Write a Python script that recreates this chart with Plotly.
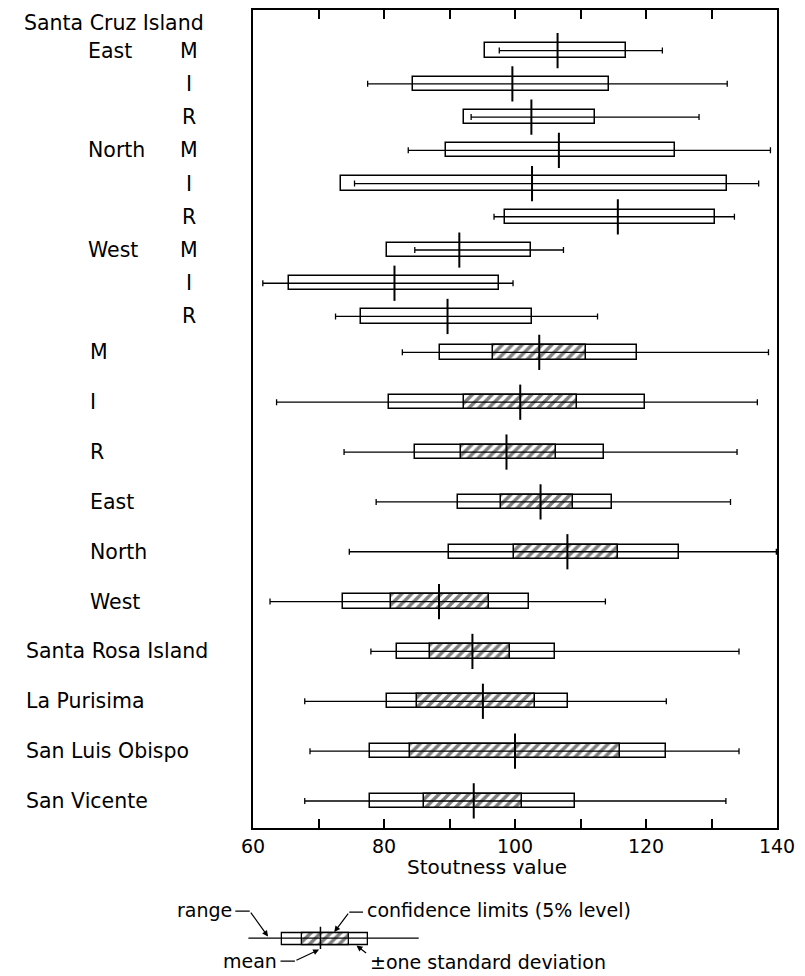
import plotly.graph_objects as go

# ---------------- data ----------------
samples = ["East M", "East I", "East R", "North M", "North I", "North R",
           "West M", "West I", "West R",
           "M", "I", "R", "East", "North", "West",
           "Santa Rosa Island", "La Purisima", "San Luis Obispo", "San Vicente"]
range_min = [97.6, 77.5, 93.3, 83.7, 75.5, 96.8, 84.7, 61.5, 72.6,
             82.8, 63.6, 73.9, 78.8, 74.7, 62.6, 78.0, 67.9, 68.7, 67.9]
range_max = [122.5, 132.4, 128.1, 139.0, 137.2, 133.5, 107.4, 99.7, 112.6,
             138.7, 137.0, 133.9, 132.9, 139.9, 113.8, 134.2, 123.1, 134.2, 132.2]
means = [106.5, 99.6, 102.5, 106.7, 102.6, 115.7, 91.5, 81.6, 89.7,
         103.7, 100.8, 98.7, 103.9, 108.0, 88.4, 93.5, 95.1, 100.0, 93.7]
sd_low = [95.4, 84.5, 92.2, 89.4, 73.5, 98.5, 80.4, 65.5, 76.5,
          88.6, 80.7, 84.8, 91.3, 89.9, 73.8, 82.0, 80.4, 77.9, 77.9]
sd_high = [117.0, 114.4, 112.2, 124.5, 132.4, 130.6, 102.5, 97.5, 102.6,
           118.6, 119.8, 113.6, 114.8, 125.0, 102.1, 106.1, 108.1, 123.1, 109.1]
ci_low = [None] * 9 + [96.7, 92.2, 91.7, 97.8, 99.9, 81.1, 87.0, 85.0, 84.0, 86.1]
ci_high = [None] * 9 + [110.8, 109.5, 106.2, 108.9, 115.8, 96.0, 99.2, 103.1, 116.1, 101.1]

header_label = "Santa Cruz Island"
tick_values = [60, 70, 80, 90, 100, 110, 120, 130, 140]
tick_labels = ["60", "", "80", "", "100", "", "120", "", "140"]
x_title = "Stoutness value"

# legend example (schematic)
legend_example = {"min": 59.3, "sd_lo": 64.5, "ci_lo": 67.5, "mean": 70.3,
                  "ci_hi": 74.7, "sd_hi": 77.5, "max": 85.3}
legend_texts = ["range", "confidence limits (5% level)", "mean", "\u00b1one standard deviation"]

# ---------------- layout helpers ----------------
OFF = 8                      # page body margin of the html page
W, H = 805 - OFF, 976 - OFF  # figure size so it fits the window exactly
ML, MR, MT, MB = 100, 28, 0, 0
PW = W - ML - MR
PH = H - MT - MB
PX_PER_UNIT = 6.55           # horizontal scale (px per stoutness unit)
X60_REF = 253                # window x of value 60


def px_x(ref_px):
    """window x -> paper x"""
    return (ref_px - OFF - ML) / PW


def px_y(ref_py):
    """window y -> paper y"""
    return (H - MB - (ref_py - OFF)) / PH


def val_at(ref_px):
    return 60 + (ref_px - X60_REF) / PX_PER_UNIT


FONT = "DejaVu Sans"
n = len(samples)
# rows 1-9 one unit apart, remaining rows 1.5 units apart
pos = [float(i) for i in range(9)] + [9.08 + 1.5 * k for k in range(n - 9)]
row_px0, row_step = 48.7, 33.3   # window y of row 0, px per row unit

fig = go.Figure()

PAT = dict(shape="/", fgcolor="black", bgcolor="white", size=7, solidity=0.5)

# +/- one SD boxes
fig.add_trace(go.Bar(
    orientation="h", y=pos, base=sd_low,
    x=[h - l for h, l in zip(sd_high, sd_low)],
    width=0.43, marker=dict(color="white", line=dict(color="black", width=1.5)),
    showlegend=False, hoverinfo="skip", xaxis="x", yaxis="y"))

# confidence limits (hatched)
ci_idx = [i for i in range(n) if ci_low[i] is not None]
fig.add_trace(go.Bar(
    orientation="h", y=[pos[i] for i in ci_idx], base=[ci_low[i] for i in ci_idx],
    x=[ci_high[i] - ci_low[i] for i in ci_idx],
    width=0.43,
    marker=dict(color="white", line=dict(color="black", width=1.5), pattern=PAT),
    showlegend=False, hoverinfo="skip", xaxis="x", yaxis="y"))

# range (error_x) and mean (error_y)
fig.add_trace(go.Scatter(
    x=means, y=pos, mode="markers",
    marker=dict(size=2, color="rgba(0,0,0,0)"),
    error_x=dict(type="data", symmetric=False,
                 array=[mx - m for mx, m in zip(range_max, means)],
                 arrayminus=[m - mn for m, mn in zip(means, range_min)],
                 color="black", thickness=1.3, width=3),
    error_y=dict(type="constant", value=0.53, color="black", thickness=2, width=0),
    cliponaxis=False, showlegend=False, hoverinfo="skip", xaxis="x", yaxis="y"))

# ---------------- legend schematic (second subplot, 1 y-unit = 1 px) ----------------
le = legend_example
fig.add_trace(go.Bar(orientation="h", y=[0.9], base=[le["sd_lo"]], x=[le["sd_hi"] - le["sd_lo"]],
                     width=12.3, marker=dict(color="white", line=dict(color="black", width=1.3)),
                     showlegend=False, hoverinfo="skip", xaxis="x2", yaxis="y2"))
fig.add_trace(go.Bar(orientation="h", y=[0.9], base=[le["ci_lo"]], x=[le["ci_hi"] - le["ci_lo"]],
                     width=12.3,
                     marker=dict(color="white", line=dict(color="black", width=1.3), pattern=PAT),
                     showlegend=False, hoverinfo="skip", xaxis="x2", yaxis="y2"))
fig.add_trace(go.Scatter(x=[le["min"], le["max"]], y=[0, 0], mode="lines",
                         line=dict(color="black", width=1.3), cliponaxis=False,
                         showlegend=False, hoverinfo="skip", xaxis="x2", yaxis="y2"))
fig.add_trace(go.Scatter(x=[le["mean"], le["mean"]], y=[-11.3, 11], mode="lines",
                         line=dict(color="black", width=1.5), cliponaxis=False,
                         showlegend=False, hoverinfo="skip", xaxis="x2", yaxis="y2"))
# leader hooks (horizontal pieces)
for xs, ys in [([57.3, 59.5], [-27, -27]), ([76.8, 74.7], [-26, -26]), ([64.2, 66.4], [23, 23])]:
    fig.add_trace(go.Scatter(x=xs, y=ys, mode="lines", line=dict(color="black", width=1.2),
                             cliponaxis=False, showlegend=False, hoverinfo="skip",
                             xaxis="x2", yaxis="y2"))

annotations = []
leg_font = dict(family=FONT, size=19, color="black")
annotations += [
    dict(text=legend_texts[0], x=57.1, y=-28, xref="x2", yref="y2", xanchor="right", yanchor="middle",
         showarrow=False, font=leg_font),
    dict(text=legend_texts[1], x=77.1, y=-28, xref="x2", yref="y2", xanchor="left", yanchor="middle",
         showarrow=False, font=leg_font),
    dict(text=legend_texts[2], x=64.0, y=23, xref="x2", yref="y2", xanchor="right", yanchor="middle",
         showarrow=False, font=leg_font),
    dict(text=legend_texts[3], x=77.5, y=24, xref="x2", yref="y2", xanchor="left", yanchor="middle",
         showarrow=False, font=leg_font),
]
# legend arrows (tail -> tip)
for (tx, ty), (hx, hy) in [((59.5, -27), (62.3, -1.5)), ((74.7, -26), (72.4, -6)),
                           ((66.4, 23), (70.1, 11.5)), ((77.5, 16), (75.8, 7.5))]:
    annotations.append(dict(text="", x=hx, y=hy, ax=tx, ay=ty, xref="x2", yref="y2",
                            axref="x2", ayref="y2", showarrow=True, arrowhead=2,
                            arrowsize=1, arrowwidth=1.2, arrowcolor="black"))

# row labels
lab_font = dict(family=FONT, size=20.5, color="black")
annotations.append(dict(text=header_label, x=px_x(22), y=-0.83, xref="paper", yref="y",
                        xanchor="left", yanchor="middle", showarrow=False, font=lab_font))
for i, s in enumerate(samples):
    if i < 9:
        region, sub = s.split(" ")
        if i % 3 == 0:
            annotations.append(dict(text=region, x=px_x(86), y=pos[i], xref="paper", yref="y",
                                    xanchor="left", yanchor="middle", showarrow=False, font=lab_font))
        annotations.append(dict(text=sub, x=px_x(189), y=pos[i], xref="paper", yref="y",
                                xanchor="center", yanchor="middle", showarrow=False, font=lab_font))
    elif i < 15:
        annotations.append(dict(text=s, x=px_x(88), y=pos[i], xref="paper", yref="y",
                                xanchor="left", yanchor="middle", showarrow=False, font=lab_font))
    else:
        annotations.append(dict(text=s, x=px_x(24), y=pos[i], xref="paper", yref="y",
                                xanchor="left", yanchor="middle", showarrow=False, font=lab_font))

# x title
annotations.append(dict(text=x_title, x=px_x(487), y=px_y(867), xref="paper", yref="paper",
                        xanchor="center", yanchor="middle", showarrow=False,
                        font=dict(family=FONT, size=20, color="black")))

main_left = px_x(X60_REF)
main_right = px_x(X60_REF + 80 * PX_PER_UNIT)
top_ref, bot_ref = OFF + MT, 828
leg_right = 0.6
fig.update_layout(
    width=W, height=H,
    margin=dict(l=ML, r=MR, t=MT, b=MB),
    paper_bgcolor="white", plot_bgcolor="white",
    barmode="overlay", bargap=0,
    showlegend=False,
    annotations=annotations,
    xaxis=dict(domain=[main_left, min(1, main_right)], range=[60, 140], anchor="y",
               tickvals=tick_values, ticktext=tick_labels,
               ticks="inside", ticklen=9, tickwidth=1.5, tickcolor="black",
               showline=True, linewidth=2, linecolor="black", mirror="ticks",
               showgrid=False, zeroline=False,
               tickfont=dict(family=FONT, size=19, color="black")),
    yaxis=dict(domain=[px_y(bot_ref), 1], anchor="x",
               range=[(bot_ref - row_px0) / row_step, (top_ref - row_px0) / row_step],
               showline=True, linewidth=2, linecolor="black", mirror=True,
               showticklabels=False, ticks="", showgrid=False, zeroline=False),
    xaxis2=dict(domain=[0, leg_right],
                range=[val_at(OFF + ML), val_at(OFF + ML + leg_right * PW)],
                anchor="y2", visible=False),
    yaxis2=dict(domain=[0, px_y(898)], range=[38, -40], anchor="x2", visible=False),
)

fig.write_html("out.html")
